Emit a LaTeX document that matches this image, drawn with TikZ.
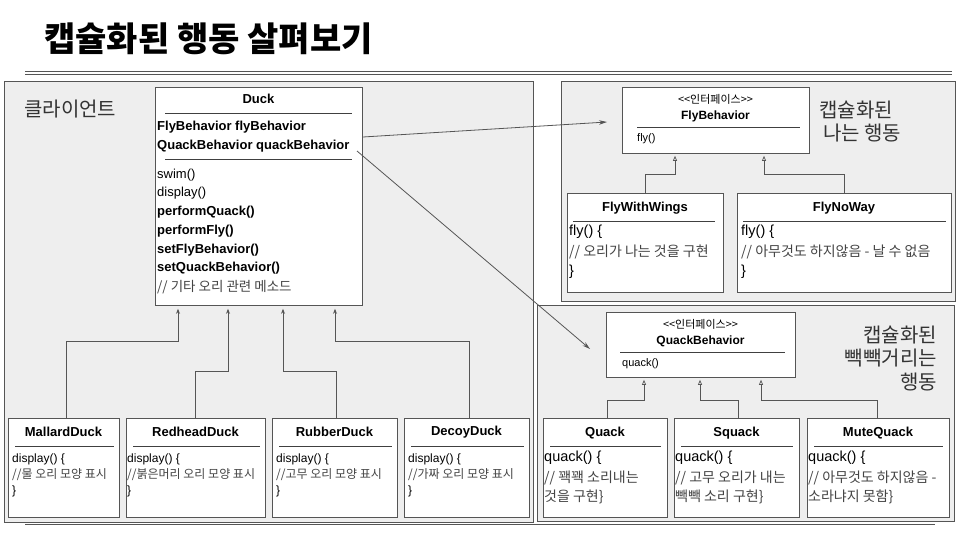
\documentclass[tikz,border=0pt]{standalone}
\usepackage{fontspec}
\setmainfont{Liberation Sans}
\newfontfamily\kr{Noto Sans CJK KR}
\usetikzlibrary{arrows.meta}
\definecolor{panelfill}{HTML}{EEEEEE}
\definecolor{linec}{HTML}{555555}
\definecolor{krc}{HTML}{444444}
\newcommand{\fs}[1]{\fontsize{#1}{#1}\selectfont}
\tikzset{
  panel/.style={draw=linec, fill=panelfill, line width=0.8pt, anchor=north west, inner sep=0pt},
  box/.style={draw=linec, fill=white, line width=0.8pt, anchor=north west, inner sep=0pt},
  sep/.style={draw=black!75, line width=0.6pt},
  ttl/.style={font=\fs{13}\bfseries, inner sep=0pt},
  txt/.style={font=\fs{12}, anchor=west, inner sep=0pt},
  btxt/.style={font=\fs{13}\bfseries, anchor=west, inner sep=0pt},
  ktxt/.style={font=\kr\fs{12}, text=krc, anchor=west, inner sep=0pt},
  btext/.style={font=\fs{14.5}, anchor=west, inner sep=0pt},
  bktxt/.style={font=\kr\fs{14}, text=krc, anchor=west, inner sep=0pt},
  lab/.style={font=\kr\fs{20}, text=black!80, inner sep=0pt},
  uarr/.style={draw=linec, line width=0.8pt, -{Stealth[length=5pt,width=4pt]}, shorten >=3pt},
  oarr/.style={draw=linec, line width=0.7pt, -{Triangle[open,length=5pt,width=4pt]}, shorten >=2pt},
  assoc/.style={draw=linec, line width=0.8pt, -{Stealth[length=8pt,width=4.5pt]}},
}
\begin{document}
\begin{tikzpicture}[x=1pt,y=-1pt]
\useasboundingbox (0,0) rectangle (960,540);
\fill[white] (0,0) rectangle (960,540);
% title
\node[font=\kr\bfseries\fs{34}, anchor=west, inner sep=0pt] (title) at (44,39) {캡슐화된 행동 살펴보기};
\draw[linec, line width=0.8pt] (25,71) -- (952,71);
\draw[linec, line width=0.8pt] (25,74) -- (952,74);
\draw[linec, line width=0.8pt] (25,524) -- (935,524);
% panels
\node[panel, minimum width=529, minimum height=441] (client) at (4,81) {};
\node[panel, minimum width=394, minimum height=220] (flyp) at (561,81) {};
\node[panel, minimum width=417, minimum height=216] (quackp) at (537,305) {};
\node[lab, anchor=west] (clab) at (24,109) {클라이언트};
\node[lab, anchor=west] (flab1) at (819,110) {캡슐화된};
\node[lab, anchor=west] (flab2) at (823,133) {나는 행동};
\node[lab, anchor=east] (qlab1) at (937,335) {캡슐화된};
\node[lab, anchor=east] (qlab2) at (937,358) {빽빽거리는};
\node[lab, anchor=east] (qlab3) at (937,382) {행동};
% Duck
\node[box, minimum width=207, minimum height=218] (duck) at (155,87) {};
\node[ttl] (duckt) at (258.5,99) {Duck};
\draw[sep] (165,113) -- (352,113);
\node[btxt] (d1) at (157,127) {FlyBehavior flyBehavior};
\node[btxt] (d2) at (157,146) {QuackBehavior quackBehavior};
\draw[sep] (165,159) -- (352,159);
\node[txt, font=\fs{13}] (d3) at (157,175) {swim()};
\node[txt, font=\fs{13}] (d4) at (157,193) {display()};
\node[btxt] (d5) at (157,212) {performQuack()};
\node[btxt] (d6) at (157,231) {performFly()};
\node[btxt] (d7) at (157,250) {setFlyBehavior()};
\node[btxt] (d8) at (157,268) {setQuackBehavior()};
\node[ktxt, font=\kr\fs{13.5}] (d9) at (157,287) {// 기타 오리 관련 메소드};
% Duck subclasses
\node[box, minimum width=111, minimum height=99] (mallard) at (8,418) {};
\node[box, minimum width=139, minimum height=99] (redhead) at (126,418) {};
\node[box, minimum width=125, minimum height=99] (rubber) at (272,418) {};
\node[box, minimum width=125, minimum height=99] (decoy) at (404,418) {};
\foreach \n/\t/\c/\xa/\xb/\tx in {mallard/MallardDuck/물 오리 모양 표시/8/119/12,
  redhead/RedheadDuck/붉은머리 오리 모양 표시/126/265/127,
  rubber/RubberDuck/고무 오리 모양 표시/272/397/276,
  decoy/DecoyDuck/가짜 오리 모양 표시/404/529/408}{
  \node[ttl] (\n-t) at ({(\xa+\xb)/2},432) {\t};
  \draw[sep] ({\xa+7},446) -- ({\xb-5},446);
  \node[txt] (\n-a) at (\tx,459) {display() \{};
  \node[ktxt] (\n-b) at (\tx,475) {//\c};
  \node[txt] (\n-c) at (\tx,491) {\}};
}
\draw[uarr] (mallard.north -| 66,0) |- (178,341) -- (duck.south -| 178,0);
\draw[uarr] (redhead.north -| 195,0) |- (228,371) -- (duck.south -| 228,0);
\draw[uarr] (rubber.north -| 336,0) |- (283,371) -- (duck.south -| 283,0);
\draw[uarr] (decoy.north -| 469,0) |- (335,341) -- (duck.south -| 335,0);
% FlyBehavior
\node[box, minimum width=187, minimum height=66] (flyb) at (622,87) {};
\node[font=\kr\fs{11}, inner sep=0pt] (flyb-s) at (715.5,99) {<<인터페이스>>};
\node[font=\fs{12}\bfseries, inner sep=0pt] (flyb-t) at (715.5,116) {FlyBehavior};
\draw[sep] (637,127) -- (800,127);
\node[font=\fs{11}, anchor=west, inner sep=0pt] (flyb-m) at (637,139) {fly()};
\node[box, minimum width=156, minimum height=99] (fww) at (567,193) {};
\node[box, minimum width=214, minimum height=99] (fnw) at (737,193) {};
\node[ttl] (fww-t) at (645,208) {FlyWithWings};
\draw[sep] (573,221) -- (715,221);
\node[btext] (fww-a) at (569,232) {fly() \{};
\node[bktxt] (fww-b) at (569,252) {// 오리가 나는 것을 구현};
\node[btext] (fww-c) at (569,272) {\}};
\node[ttl] (fnw-t) at (844,208) {FlyNoWay};
\draw[sep] (743,221) -- (946,221);
\node[btext] (fnw-a) at (741,232) {fly() \{};
\node[bktxt] (fnw-b) at (741,252) {// 아무것도 하지않음 - 날 수 없음};
\node[btext] (fnw-c) at (741,272) {\}};
\draw[oarr] (fww.north -| 645,0) |- (675,174) -- (flyb.south -| 675,0);
\draw[oarr] (fnw.north -| 844,0) |- (764,174) -- (flyb.south -| 764,0);
% QuackBehavior
\node[box, minimum width=189, minimum height=65] (qb) at (606,312) {};
\node[font=\kr\fs{11}, inner sep=0pt] (qb-s) at (700.5,324) {<<인터페이스>>};
\node[font=\fs{12}\bfseries, inner sep=0pt] (qb-t) at (700.5,341) {QuackBehavior};
\draw[sep] (620,352) -- (785,352);
\node[font=\fs{11}, anchor=west, inner sep=0pt] (qb-m) at (622,364) {quack()};
\node[box, minimum width=124, minimum height=99] (quack) at (543,418) {};
\node[box, minimum width=125, minimum height=99] (squack) at (674,418) {};
\node[box, minimum width=142, minimum height=99] (mute) at (807,418) {};
\foreach \n/\t/\ca/\cb/\xa/\xb in {quack/Quack/꽥꽥 소리내는/것을 구현/543/667,
  squack/Squack/고무 오리가 내는/빽빽 소리 구현/674/799,
  mute/MuteQuack/아무것도 하지않음 -/소라냐지 못함/807/949}{
  \node[ttl] (\n-t) at ({(\xa+\xb)/2},433) {\t};
  \draw[sep] ({\xa+7},446) -- ({\xb-6},446);
  \node[btext] (\n-a) at ({\xa+1},458) {quack() \{};
  \node[bktxt] (\n-b) at ({\xa+1},478) {// \ca};
  \node[bktxt] (\n-c) at ({\xa+1},497) {\cb\}};
}
\draw[oarr] (quack.north -| 607,0) |- (644,400) -- (qb.south -| 644,0);
\draw[oarr] (squack.north -| 738,0) |- (700,400) -- (qb.south -| 700,0);
\draw[oarr] (mute.north -| 877,0) |- (761,400) -- (qb.south -| 761,0);
% associations
\coordinate (fstart) at (363,137);
\coordinate (fend) at (607,122);
\coordinate (qstart) at (357,151);
\coordinate (qend) at (590,349);
\draw[assoc] (fstart) -- (fend);
\draw[assoc] (qstart) -- (qend);
\end{tikzpicture}
\end{document}
